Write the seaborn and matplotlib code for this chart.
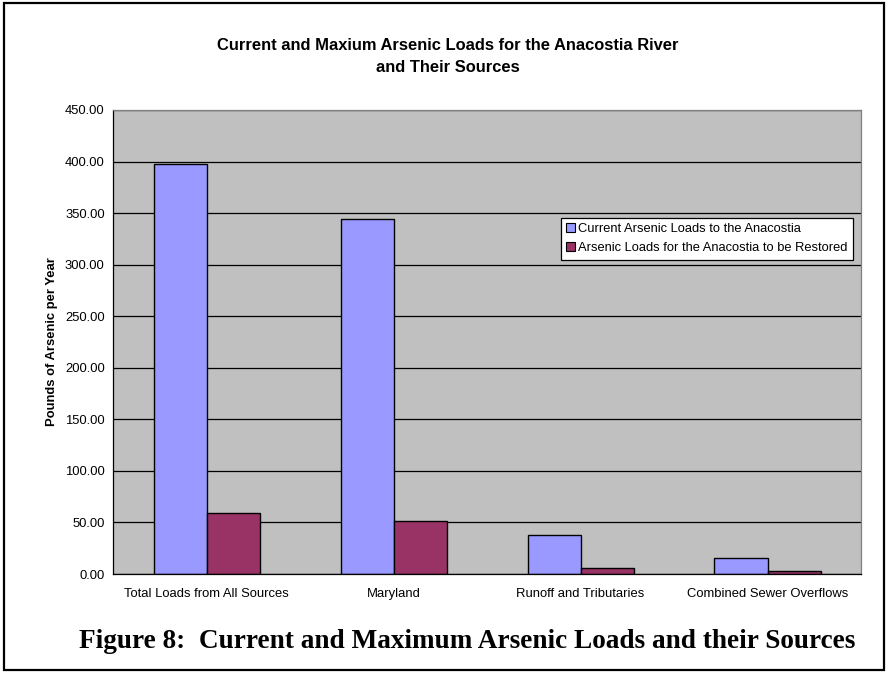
import matplotlib
matplotlib.use("Agg")
import pandas as pd
import seaborn as sns
import matplotlib.pyplot as plt
from matplotlib.patches import Patch, Rectangle
from matplotlib.ticker import FormatStrFormatter, MultipleLocator, FixedLocator

# values (pounds of arsenic per year)
sources = ["Total Loads from All Sources", "Maryland",
           "Runoff and Tributaries", "Combined Sewer Overflows"]
current_loads = [398.0, 344.0, 38.0, 16.0]
restored_loads = [59.0, 51.0, 6.0, 2.5]
series_names = ["Current Arsenic Loads to the Anacostia",
                "Arsenic Loads for the Anacostia to be Restored"]
colors = ["#9999FF", "#993366"]

df = pd.DataFrame({
    "source": sources * 2,
    "load": current_loads + restored_loads,
    "series": [series_names[0]] * 4 + [series_names[1]] * 4,
})

sns.set_style("white")
plt.rcParams["font.family"] = ["Liberation Sans", "DejaVu Sans"]
plt.rcParams.update({"text.color": "black", "axes.labelcolor": "black",
                     "xtick.color": "black", "ytick.color": "black"})

fig = plt.figure(figsize=(8.88, 6.73), dpi=100)
ax = fig.add_axes([0.1273, 0.1471, 0.8423, 0.6895])

sns.barplot(data=df, x="source", y="load", hue="series", palette=colors,
            saturation=1, edgecolor="black", linewidth=1, width=0.567, ax=ax)

ax.set_facecolor("#C0C0C0")
ax.set_xlim(-0.5, 3.5)
ax.set_ylim(0, 450)
ax.yaxis.set_major_locator(MultipleLocator(50))
ax.yaxis.set_major_formatter(FormatStrFormatter("%.2f"))
ax.grid(axis="y", color="black", linewidth=0.9)
ax.set_axisbelow(True)

# category dividers as tick marks, like the spreadsheet chart
ax.xaxis.set_minor_locator(FixedLocator([-0.5, 0.5, 1.5, 2.5, 3.5]))
ax.tick_params(axis="x", which="major", length=0, pad=10, labelsize=9.4)
ax.tick_params(axis="x", which="minor", length=5, width=0.9, color="black", direction="out")
ax.tick_params(axis="y", length=4, width=0.9, color="black", direction="out", labelsize=9.4, pad=2)

for side in ["top", "right"]:
    ax.spines[side].set_color("#808080")
    ax.spines[side].set_linewidth(0.9)
for side in ["left", "bottom"]:
    ax.spines[side].set_color("black")
    ax.spines[side].set_linewidth(0.9)

ax.set_xlabel("")
ax.set_ylabel("Pounds of Arsenic per Year", fontsize=9.4, fontweight="bold", labelpad=5)

handles = [Patch(facecolor=c, edgecolor="black", linewidth=0.8) for c in colors]
leg = ax.legend(handles, series_names, loc="upper right", bbox_to_anchor=(0.989, 0.767),
                fontsize=9.3, frameon=True, fancybox=False, edgecolor="black",
                framealpha=1, handlelength=0.7, handleheight=0.7, handletextpad=0.25,
                borderpad=0.4, labelspacing=0.55, borderaxespad=0)
leg.get_frame().set_linewidth(0.9)

fig.text(0.504, 0.916, "Current and Maxium Arsenic Loads for the Anacostia River\nand Their Sources",
         ha="center", va="center", fontsize=11.9, fontweight="bold", linespacing=1.55)

fig.text(0.526, 0.047, "Figure 8:  Current and Maximum Arsenic Loads and their Sources",
         ha="center", va="center", fontsize=19.6, fontweight="bold",
         family=["Liberation Serif", "DejaVu Serif"])

# outer frame around the whole figure
fig.patches.append(Rectangle((0.004, 0.005), 0.992, 0.99, transform=fig.transFigure,
                             fill=False, edgecolor="black", linewidth=1.6))

fig.savefig("out.png", dpi=100)
